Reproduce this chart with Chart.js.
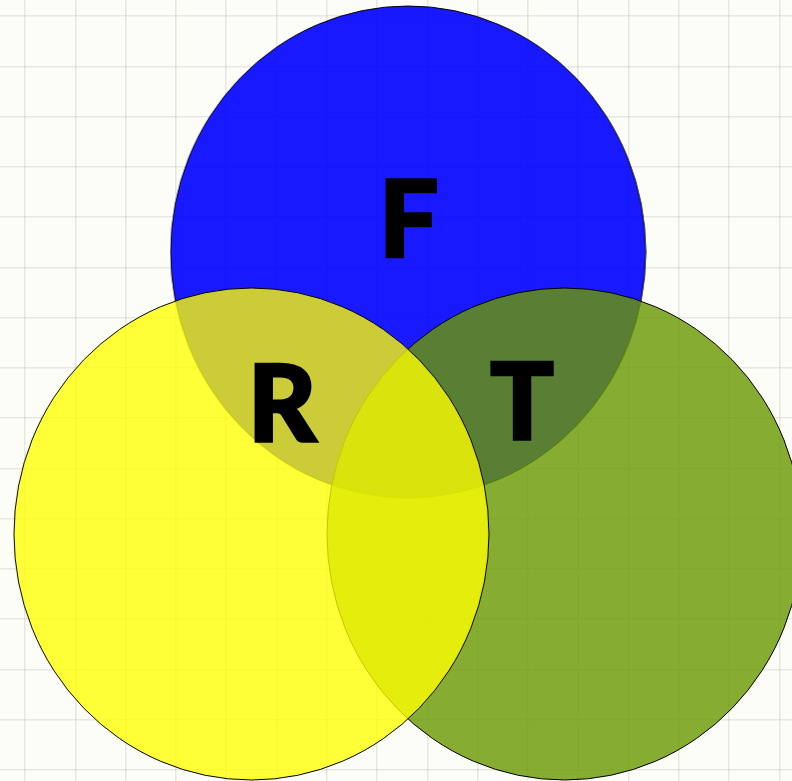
<!DOCTYPE html>
<html>
<head>
<meta charset="utf-8">
<script src="https://cdn.jsdelivr.net/npm/chart.js@4.4.1/dist/chart.umd.min.js"></script>
<style>
  html, body { margin: 0; padding: 0; background: #fdfdf8; }
  #wrap { width: 792px; height: 781px; position: relative; }
</style>
</head>
<body>
<div id="wrap"><canvas id="venn"></canvas></div>
<script>
// set names and where the circles sit (grid units)
const setNames = ['R', 'T', 'F']
const centerX = [4.5, 10.725, 7.617]
const centerY = [4.695, 4.695, 10.306]
const fillColors = ['rgba(255,255,0,0.78)', 'rgba(104,152,0,0.8)', 'rgba(0,0,255,0.9)']

// where each letter goes (baseline)
const labelX = [5.11, 9.88, 7.63]
const labelY = [6.53, 6.57, 10.21]

// the discs are a touch taller than wide in the picture
const discW = 237.5
const discH = 246

const ctx = document.getElementById('venn')

const makeDisc = (color) => {
    const cv = document.createElement('canvas')
    cv.width = Math.ceil(discW * 2) + 2
    cv.height = Math.ceil(discH * 2) + 2
    const g = cv.getContext('2d')
    g.beginPath()
    g.ellipse(cv.width / 2, cv.height / 2, discW, discH, 0, 0, Math.PI * 2)
    g.fillStyle = color
    g.fill()
    g.strokeStyle = '#000'
    g.lineWidth = 1
    g.stroke()
    return cv
}

const letterPlugin = {
    id: 'letters',
    afterDatasetsDraw(chart) {
        const c = chart.ctx
        const xs = chart.scales.x
        const ys = chart.scales.y
        c.save()
        c.fillStyle = '#000'
        c.strokeStyle = '#000'
        c.lineWidth = 2.5
        c.font = '900 106px Lato'
        c.textAlign = 'center'
        c.textBaseline = 'alphabetic'
        setNames.forEach((name, i) => {
            const px = xs.getPixelForValue(labelX[i])
            const py = ys.getPixelForValue(labelY[i])
            c.fillText(name, px, py)
            c.strokeText(name, px, py)
        })
        c.restore()
    }
}

// yellow on top, then green, blue at the bottom
const datasets = setNames.map((name, i) => ({
    label: name,
    data: [{ x: centerX[i], y: centerY[i], r: discW }],
    pointStyle: makeDisc(fillColors[i]),
    backgroundColor: fillColors[i],
    borderColor: '#000',
    borderWidth: 1,
    order: i + 1
}))

new Chart(ctx, {
    type: 'bubble',
    data: { datasets: datasets },
    options: {
        responsive: true,
        maintainAspectRatio: false,
        animation: false,
        events: [],
        layout: { padding: 0, autoPadding: false },
        plugins: {
            legend: { display: false },
            tooltip: { enabled: false }
        },
        scales: {
            x: {
                min: -0.5,
                max: 15.25,
                ticks: { display: false, stepSize: 1, includeBounds: false },
                border: { display: false },
                grid: { color: 'rgba(90,90,80,0.13)', lineWidth: 1.6, drawTicks: false }
            },
            y: {
                min: -0.22,
                max: 15.32,
                ticks: { display: false, stepSize: 1, includeBounds: false },
                border: { display: false },
                grid: { color: 'rgba(90,90,80,0.13)', lineWidth: 1.6, drawTicks: false }
            }
        }
    },
    plugins: [letterPlugin]
})
</script>
</body>
</html>
